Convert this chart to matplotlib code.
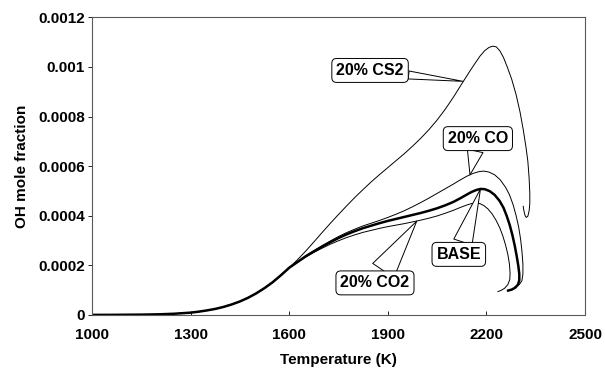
import matplotlib
matplotlib.use("Agg")
import matplotlib.pyplot as plt

plt.rcParams['font.family'] = ['Liberation Sans', 'DejaVu Sans']
plt.rcParams['font.weight'] = 'bold'

# shared ignition part (all mixtures coincide below ~1600 K)
t_ign = [1000, 1050, 1100, 1150, 1200, 1250, 1300, 1325, 1350, 1375, 1400,
         1425, 1450, 1475, 1500, 1525, 1550, 1575, 1600]
oh_ign = [0, 0, 0.0000005, 0.000001, 0.000002, 0.0000045, 0.000009, 0.000013,
          0.000018, 0.000024, 0.000032, 0.000042, 0.000054, 0.000069, 0.000087,
          0.000108, 0.000132, 0.00016, 0.00019]

# BASE
t_base = [1625, 1650, 1675, 1700, 1725, 1750, 1775, 1800, 1825, 1850, 1875,
          1900, 1925, 1950, 1975, 2000, 2025, 2050, 2075, 2100, 2120, 2140,
          2155, 2170, 2182, 2195, 2210, 2225, 2240, 2252, 2262, 2271, 2279,
          2286, 2292, 2297, 2300, 2300, 2296, 2288, 2277, 2266]
oh_base = [0.000213, 0.000236, 0.000256, 0.000275, 0.000293, 0.00031, 0.000325,
           0.000338, 0.00035, 0.00036, 0.00037, 0.000379, 0.000387, 0.000395,
           0.000403, 0.000411, 0.00042, 0.00043, 0.000442, 0.000456, 0.00047,
           0.000485, 0.000496, 0.000504, 0.000508, 0.000507, 0.000499, 0.000484,
           0.00046, 0.000432, 0.000398, 0.000362, 0.000322, 0.00028, 0.000238,
           0.000198, 0.000165, 0.00014, 0.000122, 0.00011, 0.000102, 0.000098]

# 20% CO
t_co = [1625, 1650, 1675, 1700, 1725, 1750, 1775, 1800, 1825, 1850, 1875,
        1900, 1925, 1950, 1975, 2000, 2025, 2050, 2075, 2100, 2120, 2140,
        2160, 2178, 2192, 2208, 2225, 2242, 2258, 2270, 2281, 2290, 2298,
        2304, 2308, 2311, 2311, 2308, 2300, 2287]
oh_co = [0.000214, 0.000238, 0.000259, 0.000279, 0.000298, 0.000316, 0.000332,
         0.000346, 0.000359, 0.00037, 0.000381, 0.000393, 0.000406, 0.00042,
         0.000436, 0.000453, 0.000471, 0.00049, 0.000509, 0.000528, 0.000544,
         0.000559, 0.000571, 0.000578, 0.00058, 0.000576, 0.000565, 0.000545,
         0.000515, 0.000485, 0.000445, 0.000402, 0.000355, 0.000305, 0.000258,
         0.000205, 0.000165, 0.000138, 0.000122, 0.000114]

# 20% CO2
t_co2 = [1625, 1650, 1675, 1700, 1725, 1750, 1775, 1800, 1825, 1850, 1875,
         1900, 1925, 1950, 1975, 2000, 2025, 2050, 2075, 2100, 2120, 2140,
         2155, 2168, 2180, 2192, 2205, 2218, 2230, 2241, 2250, 2258, 2265,
         2270, 2272, 2271, 2265, 2255, 2245, 2235]
oh_co2 = [0.000212, 0.000233, 0.000252, 0.000269, 0.000285, 0.000299, 0.000312,
          0.000323, 0.000333, 0.000341, 0.000349, 0.000356, 0.000362, 0.000368,
          0.000375, 0.000382, 0.00039, 0.000399, 0.00041, 0.000422, 0.000433,
          0.000443, 0.000449, 0.000451, 0.000449, 0.000441, 0.000427, 0.000406,
          0.00038, 0.00035, 0.000318, 0.000283, 0.000245, 0.000205, 0.000168,
          0.000142, 0.000122, 0.000107, 0.000099, 0.000094]

# 20% CS2
t_cs2 = [1625, 1650, 1675, 1700, 1725, 1750, 1775, 1800, 1825, 1850, 1875,
         1900, 1925, 1950, 1975, 2000, 2025, 2050, 2075, 2100, 2125, 2150,
         2165, 2180, 2195, 2208, 2220, 2230, 2241, 2252, 2264, 2277, 2290,
         2302, 2312, 2320, 2326, 2330, 2332, 2332, 2330, 2326, 2321, 2317,
         2314, 2312]
oh_cs2 = [0.000222, 0.000257, 0.000294, 0.000332, 0.000369, 0.000405, 0.00044,
          0.000474, 0.000506, 0.000537, 0.000566, 0.000594, 0.000622, 0.00065,
          0.00068, 0.000712, 0.000747, 0.000786, 0.00083, 0.000879, 0.000932,
          0.000984, 0.001014, 0.001043, 0.001066, 0.001079, 0.001084, 0.001081,
          0.001065, 0.001038, 0.000998, 0.00095, 0.00089, 0.00082, 0.000747,
          0.00068, 0.00062, 0.00055, 0.00049, 0.00045, 0.00042, 0.000398,
          0.000393, 0.000403, 0.00042, 0.000438]

xticks = [1000, 1300, 1600, 1900, 2200, 2500]
yticks = [0, 0.0002, 0.0004, 0.0006, 0.0008, 0.001, 0.0012]
ytick_labels = ['0', '0.0002', '0.0004', '0.0006', '0.0008', '0.001', '0.0012']

fig = plt.figure(figsize=(6.05, 3.70), dpi=100)
ax = fig.add_axes([0.152, 0.149, 0.815, 0.804])

ax.plot(t_ign + t_co2, oh_ign + oh_co2, color='black', lw=0.7)
ax.plot(t_ign + t_co, oh_ign + oh_co, color='black', lw=0.7)
ax.plot(t_ign + t_cs2, oh_ign + oh_cs2, color='black', lw=0.7)
ax.plot(t_ign + t_base, oh_ign + oh_base, color='black', lw=1.8)

ax.set_xlim(1000, 2500)
ax.set_ylim(0, 0.0012)
ax.set_xticks(xticks)
ax.set_xticklabels([str(t) for t in xticks])
ax.set_yticks(yticks)
ax.set_yticklabels(ytick_labels)
ax.tick_params(axis='y', direction='out', length=3, width=0.6, labelsize=11, pad=2)
ax.tick_params(axis='x', direction='in', length=3, width=0.6, labelsize=11, pad=9.5)
for s in ax.spines.values():
    s.set_linewidth(0.8)
    s.set_color('0.35')

ax.set_xlabel('Temperature (K)', fontsize=11, fontweight='bold', labelpad=8)
ax.set_ylabel('OH mole fraction', fontsize=11, fontweight='bold', labelpad=7)

# callout labels: text, curve point, box centre, wedge width
box = dict(boxstyle='round,pad=0.28,rounding_size=0.3', fc='white', ec='black', lw=0.7)
callouts = [
    ('20% CS2', (2129, 0.000942), (1846, 0.000986), 0.5),
    ('20% CO', (2150, 0.000565), (2174, 0.000711), 1.0),
    ('BASE', (2182, 0.000508), (2116, 0.000244), 1.2),
    ('20% CO2', (1988, 0.000378), (1861, 0.000129), 1.6),
]
for txt, tip, pos, w in callouts:
    ax.annotate(txt, xy=tip, xytext=pos, ha='center', va='center',
                fontsize=11.5, fontweight='bold', bbox=box,
                arrowprops=dict(arrowstyle='wedge,tail_width=%.2f,shrink_factor=0.5' % w,
                                fc='white', ec='black', lw=0.7,
                                shrinkA=0, shrinkB=0))

fig.savefig('out.png', dpi=100)
